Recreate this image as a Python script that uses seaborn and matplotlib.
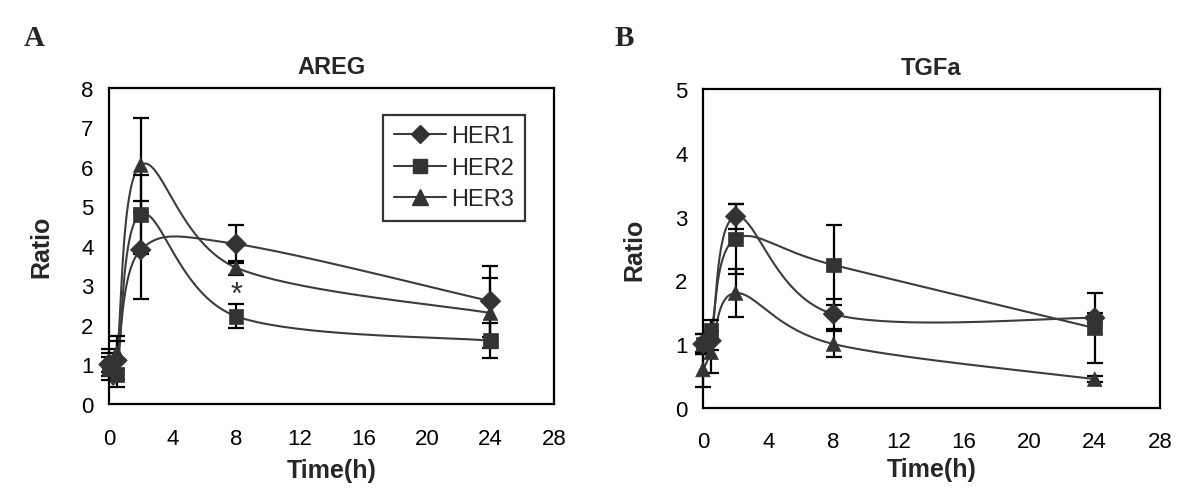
import numpy as np
import pandas as pd
import seaborn as sns
import matplotlib
matplotlib.use("Agg")
import matplotlib.pyplot as plt
from matplotlib.lines import Line2D

# time points (h)
times = [0, 0.5, 2, 8, 24]
receptors = ["HER1", "HER2", "HER3"]

# AREG panel
areg_her1 = [1.0, 1.1, 3.9, 4.05, 2.6]
areg_her2 = [0.9, 0.75, 4.8, 2.22, 1.6]
areg_her3 = [1.1, 1.3, 6.05, 3.45, 2.3]
areg_her1_err = [0.3, 0.5, 1.25, 0.47, 0.9]
areg_her2_err = [0.3, 0.33, 1.0, 0.3, 0.45]
areg_her3_err = [0.3, 0.42, 1.2, 0.18, 0.88]

# TGFa panel
tgfa_her1 = [1.0, 1.05, 3.0, 1.47, 1.41]
tgfa_her2 = [1.0, 1.22, 2.65, 2.24, 1.25]
tgfa_her3 = [0.6, 0.87, 1.8, 1.0, 0.45]
tgfa_her1_err = [0.15, 0.15, 0.2, 0.23, 0.08]
tgfa_her2_err = [0.15, 0.15, 0.55, 0.63, 0.55]
tgfa_her3_err = [0.27, 0.33, 0.38, 0.2, 0.05]

star_time, star_ratio = 8, 2.75

color = "#333333"
markers = {"HER1": "D", "HER2": "s", "HER3": "^"}
msize = {"HER1": 9, "HER2": 10, "HER3": 11}


def frame_of(vals, errs):
    rows = []
    for r, v, e in zip(receptors, vals, errs):
        for t, y, s in zip(times, v, e):
            rows.append({"time": t, "ratio": y, "err": s, "receptor": r})
    return pd.DataFrame(rows)


def smooth(x, y, n=40):
    # excel-like smoothed line (catmull-rom bezier)
    p = np.column_stack([x, y]).astype(float)
    p = np.vstack([p[0], p, p[-1]])
    out = []
    for i in range(1, len(p) - 2):
        p0, p1, p2, p3 = p[i - 1], p[i], p[i + 1], p[i + 2]
        c1 = p1 + (p2 - p0) / 6
        c2 = p2 - (p3 - p1) / 6
        t = np.linspace(0, 1, n)[:, None]
        b = (1 - t) ** 3 * p1 + 3 * (1 - t) ** 2 * t * c1 + 3 * (1 - t) * t ** 2 * c2 + t ** 3 * p2
        out.append(b)
    out = np.vstack(out)
    return out[:, 0], out[:, 1]


def panel(ax, df, title, ymax, xlab_y):
    for r in receptors:
        d = df[df.receptor == r]
        sx, sy = smooth(d.time.values, d.ratio.values)
        ax.plot(sx, sy, color="#3c3c3c", lw=1.5, zorder=2)
        ax.errorbar(d.time, d.ratio, yerr=d.err, fmt="none", ecolor="black",
                    elinewidth=1.6, capsize=6, capthick=1.6, zorder=3, clip_on=False)
    sns.scatterplot(data=df, x="time", y="ratio", style="receptor", markers=markers,
                    color=color, s=110, edgecolor=color, linewidth=0.5,
                    legend=False, ax=ax, zorder=4, clip_on=False)
    ax.set_xlim(0, 28)
    ax.set_ylim(0, ymax)
    ax.set_xticks(range(0, 29, 4))
    ax.set_yticks(range(0, ymax + 1))
    ax.set_title(title, fontsize=17, fontweight="bold", pad=11)
    ax.set_xlabel("Time(h)", fontsize=18, fontweight="bold")
    ax.set_ylabel("Ratio", fontsize=18, fontweight="bold")
    ax.xaxis.set_label_coords(0.5, xlab_y)
    ax.yaxis.set_label_coords(-0.124, 0.5)
    ax.tick_params(direction="out", length=6, width=1.6, labelsize=16, colors="black")
    ax.tick_params(axis="x", pad=11)
    ax.tick_params(axis="y", pad=5)
    for s in ax.spines.values():
        s.set_linewidth(1.6)
        s.set_color("black")


sns.set_theme(style="white")
plt.rcParams["font.family"] = ["Liberation Sans", "DejaVu Sans"]

fig = plt.figure(figsize=(12, 4.89), dpi=100)
ax1 = fig.add_axes([0.0908, 0.172, 0.3709, 0.646])
ax2 = fig.add_axes([0.5858, 0.164, 0.3809, 0.652])

areg = frame_of([areg_her1, areg_her2, areg_her3], [areg_her1_err, areg_her2_err, areg_her3_err])
tgfa = frame_of([tgfa_her1, tgfa_her2, tgfa_her3], [tgfa_her1_err, tgfa_her2_err, tgfa_her3_err])

panel(ax1, areg, "AREG", 8, -0.17)
panel(ax2, tgfa, "TGFa", 5, -0.155)
ax1.text(star_time, star_ratio, "*", ha="center", va="center", fontsize=22, color=color)

handles = [Line2D([], [], color="#3c3c3c", lw=1.5, marker=markers[r], markersize=msize[r],
                  markerfacecolor=color, markeredgecolor=color) for r in receptors]
leg = ax1.legend(handles, receptors, loc="upper right", bbox_to_anchor=(0.935, 0.915),
                 fontsize=17, frameon=True, fancybox=False, handlelength=2.2,
                 borderpad=0.45, labelspacing=0.4, handletextpad=0.25, borderaxespad=0)
leg.get_frame().set_edgecolor("black")
leg.get_frame().set_linewidth(1.6)

fig.text(0.02, 0.905, "A", fontsize=21, fontweight="bold", family="Liberation Serif")
fig.text(0.512, 0.905, "B", fontsize=21, fontweight="bold", family="Liberation Serif")

fig.savefig("out.png", dpi=100, facecolor="white")
